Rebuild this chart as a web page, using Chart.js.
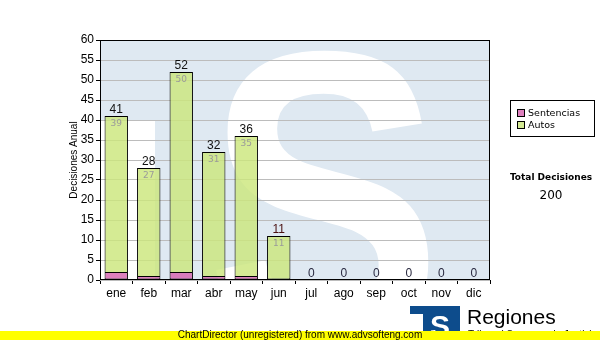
<!DOCTYPE html>
<html>
<head>
<meta charset="utf-8">
<script src="https://cdn.jsdelivr.net/npm/chart.js@4/dist/chart.umd.min.js"></script>
<style>
    html, body { margin: 0; padding: 0; background: #fff; }
    canvas { display: block; }
</style>
</head>
<body>
<canvas id="decisionesChart" width="600" height="340"></canvas>
<script>
const meses = ['ene', 'feb', 'mar', 'abr', 'may', 'jun', 'jul', 'ago', 'sep', 'oct', 'nov', 'dic'];
const sentencias = [2, 1, 2, 1, 1, 0, 0, 0, 0, 0, 0, 0];
const autos = [39, 27, 50, 31, 35, 11, 0, 0, 0, 0, 0, 0];
const yTicks = [0, 5, 10, 15, 20, 25, 30, 35, 40, 45, 50, 55, 60];

const totales = meses.map((m, i) => sentencias[i] + autos[i]);
const totalDecisiones = totales.reduce((a, b) => a + b, 0);

const sansFont = '"Liberation Sans", Arial, sans-serif';
const verdanaFont = '"DejaVu Sans", Verdana, sans-serif';

// light blue "TS" logo behind the plot
const watermark = {
    id: 'watermark',
    beforeDraw(chart) {
        const { ctx, chartArea: a } = chart;
        ctx.save();
        ctx.beginPath();
        ctx.rect(a.left, a.top, a.right - a.left, a.bottom - a.top);
        ctx.clip();
        ctx.fillStyle = '#dfe9f2';
        ctx.fillRect(a.left, a.top, a.right - a.left, a.bottom - a.top);
        ctx.fillStyle = '#ffffff';
        ctx.fillRect(a.left, a.top + 81, 55, a.bottom - a.top);

        ctx.font = 'bold 100px ' + sansFont;
        const m = ctx.measureText('S');
        const w = m.actualBoundingBoxLeft + m.actualBoundingBoxRight;
        const h = m.actualBoundingBoxAscent + m.actualBoundingBoxDescent;
        const bx = 213, by = 50, bw = 216, bh = 300;
        ctx.translate(bx, by);
        ctx.scale(bw / w, bh / h);
        ctx.textBaseline = 'alphabetic';
        ctx.fillText('S', m.actualBoundingBoxLeft, m.actualBoundingBoxAscent);
        ctx.restore();
    }
};

const extras = {
    id: 'extras',
    afterDatasetsDraw(chart) {
        const { ctx, chartArea: a, scales } = chart;
        ctx.save();

        // frame
        ctx.strokeStyle = '#000';
        ctx.lineWidth = 1;
        ctx.strokeRect(a.left + 0.5, a.top + 0.5, a.right - a.left - 1, a.bottom - a.top - 1);

        // value labels
        ctx.textAlign = 'center';
        meses.forEach((m, i) => {
            const x = scales.x.getPixelForValue(i);
            const yTop = scales.y.getPixelForValue(totales[i]);
            ctx.font = '12px ' + sansFont;
            ctx.fillStyle = totales[i] === 0 ? '#2a2a40' : (i === 5 ? '#4a1010' : '#111');
            ctx.textBaseline = 'bottom';
            ctx.fillText(String(totales[i]), x, yTop);
            if (autos[i] > 0) {
                ctx.font = '9px ' + verdanaFont;
                ctx.fillStyle = '#9a9a9a';
                ctx.textBaseline = 'middle';
                ctx.fillText(String(autos[i]), x, scales.y.getPixelForValue(autos[i] + sentencias[i]) + 8);
            }
        });

        // y title
        ctx.save();
        ctx.translate(74, (a.top + a.bottom) / 2);
        ctx.rotate(-Math.PI / 2);
        ctx.font = '10px ' + sansFont;
        ctx.fillStyle = '#000';
        ctx.textBaseline = 'middle';
        ctx.fillText('Decisiones Anual', 0, 0);
        ctx.restore();

        // legend
        ctx.strokeRect(510.5, 100.5, 84, 36);
        const items = [['Sentencias', chart.data.datasets[0].backgroundColor], ['Autos', chart.data.datasets[1].backgroundColor]];
        items.forEach((it, k) => {
            const y = 109 + k * 12;
            ctx.fillStyle = '#fff';
            ctx.fillRect(517, y, 8, 8);
            ctx.fillStyle = it[1];
            ctx.fillRect(517, y, 8, 8);
            ctx.strokeRect(517.5, y + 0.5, 7, 7);
            ctx.fillStyle = '#000';
            ctx.font = '9.5px ' + verdanaFont;
            ctx.textAlign = 'left';
            ctx.textBaseline = 'middle';
            ctx.fillText(it[0], 528, y + 4.5);
        });

        // total
        ctx.textAlign = 'center';
        ctx.font = 'bold 9px ' + verdanaFont;
        ctx.fillText('Total Decisiones', 551, 178);
        ctx.font = '12px ' + verdanaFont;
        ctx.fillText(String(totalDecisiones), 551, 196);

        // small logo
        ctx.fillStyle = '#0d4c8c';
        ctx.fillRect(410, 306, 50, 34);
        ctx.fillStyle = '#fff';
        ctx.fillRect(410, 314, 13, 26);
        ctx.font = 'bold 30px ' + sansFont;
        ctx.textAlign = 'left';
        ctx.textBaseline = 'alphabetic';
        ctx.fillText('S', 430, 336);
        ctx.fillStyle = '#000';
        ctx.font = '21px ' + sansFont;
        ctx.fillText('Regiones', 467, 324);
        ctx.font = '10px ' + sansFont;
        ctx.fillText('Tribunal Supremo de Justicia', 468, 338);

        // unregistered banner
        ctx.fillStyle = '#ffff00';
        ctx.fillRect(0, 331, 600, 9);
        ctx.fillStyle = '#000';
        ctx.font = '10px ' + sansFont;
        ctx.textAlign = 'center';
        ctx.textBaseline = 'middle';
        ctx.fillText('ChartDirector (unregistered) from www.advsofteng.com', 300, 335.5);

        ctx.restore();
    }
};

const ctx = document.getElementById('decisionesChart').getContext('2d');
new Chart(ctx, {
    type: 'bar',
    data: {
        labels: meses,
        datasets: [{
            label: 'Sentencias',
            data: sentencias,
            backgroundColor: 'rgba(215, 100, 176, 0.82)',
            borderColor: '#000',
            borderWidth: c => (c.raw ? 1 : 0),
            borderSkipped: false,
            barPercentage: 0.72,
            categoryPercentage: 1
        }, {
            label: 'Autos',
            data: autos,
            backgroundColor: 'rgba(204, 231, 124, 0.82)',
            borderColor: '#000',
            borderWidth: c => (c.raw ? 1 : 0),
            borderSkipped: c => (sentencias[c.dataIndex] ? 'start' : false),
            barPercentage: 0.72,
            categoryPercentage: 1
        }]
    },
    options: {
        responsive: false,
        animation: false,
        layout: { padding: { left: 0, right: 110, top: 40, bottom: 0 } },
        plugins: {
            legend: { display: false },
            tooltip: { enabled: false }
        },
        scales: {
            x: {
                stacked: true,
                grid: { drawOnChartArea: false, drawTicks: true, tickLength: 4, tickColor: '#000' },
                border: { display: false },
                ticks: { color: '#000', font: { family: sansFont, size: 12 }, padding: 2, maxRotation: 0 },
                afterFit(scale) { scale.height = 60; }
            },
            y: {
                stacked: true,
                min: 0,
                max: 60,
                afterBuildTicks(scale) { scale.ticks = yTicks.map(v => ({ value: v })); },
                grid: { color: '#bcbcbc', lineWidth: 1, tickLength: 4, tickColor: '#000' },
                border: { display: false },
                ticks: { color: '#000', font: { family: sansFont, size: 12 }, padding: 2 },
                afterFit(scale) { scale.width = 100; }
            }
        }
    },
    plugins: [watermark, extras]
});
</script>
</body>
</html>
